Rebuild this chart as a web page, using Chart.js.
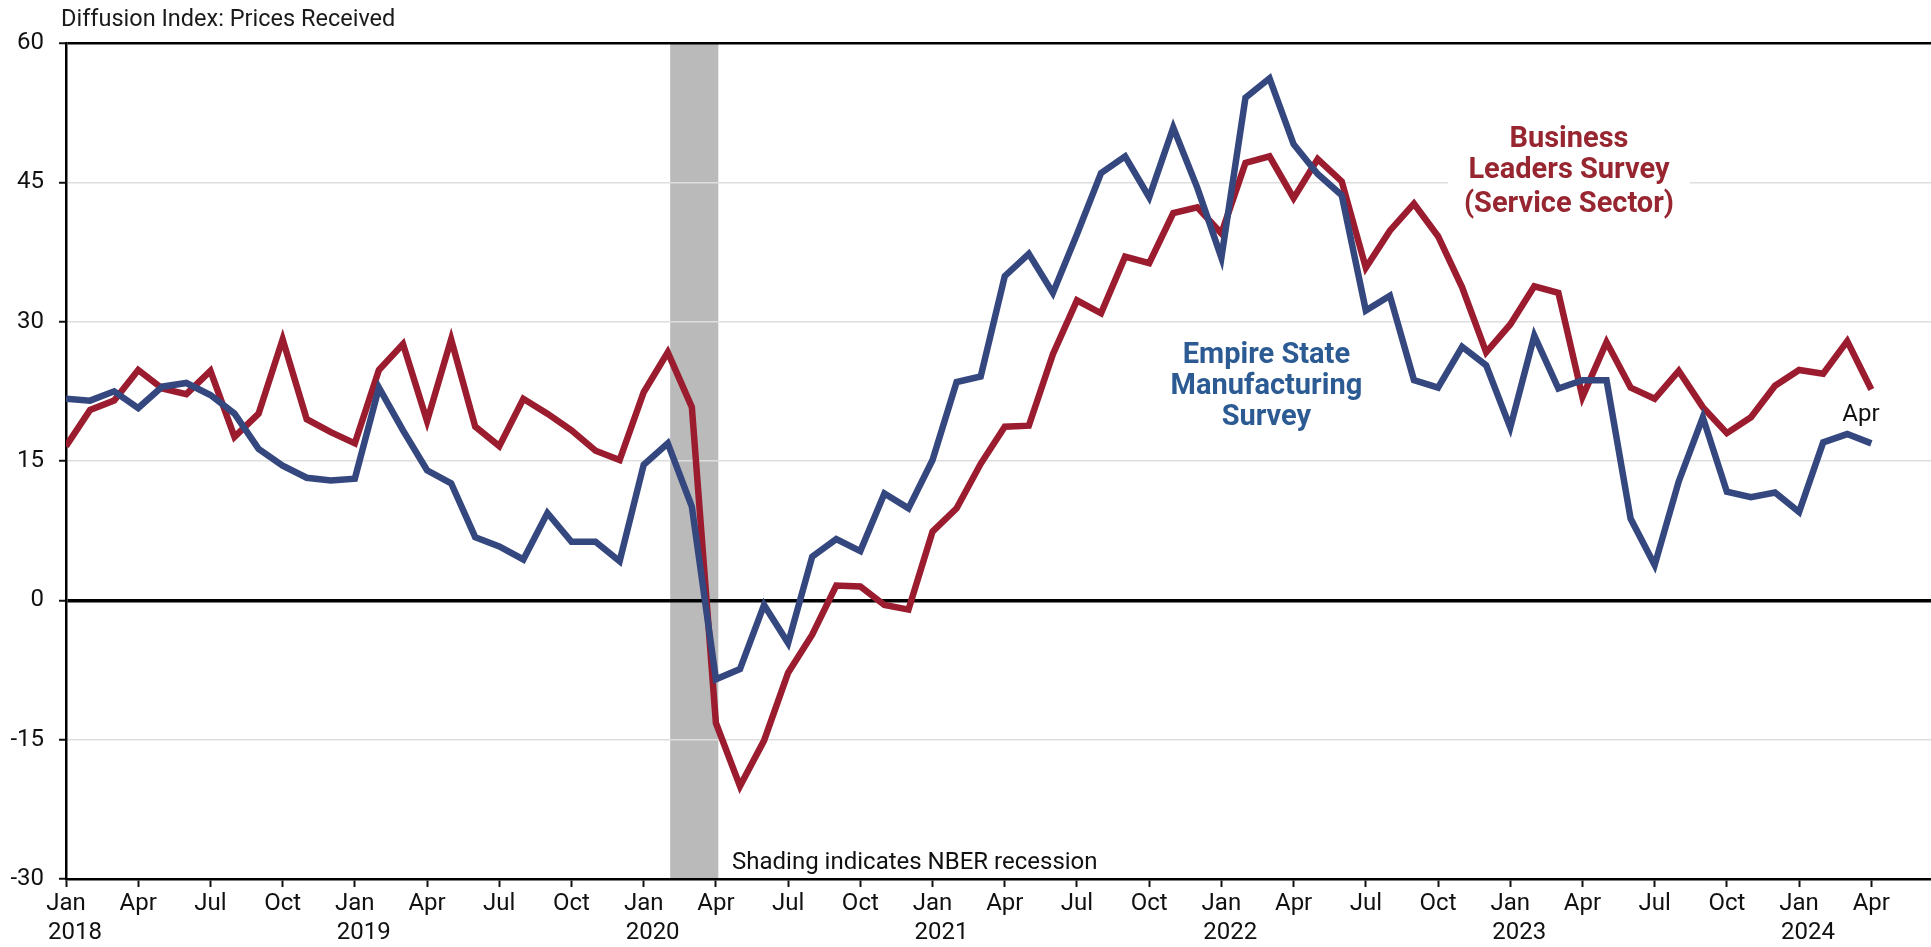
<!DOCTYPE html>
<html>
<head>
<meta charset="utf-8">
<script src="https://cdn.jsdelivr.net/npm/chart.js@4.4.1/dist/chart.umd.min.js"></script>
<style>
  html, body { margin: 0; padding: 0; background: #ffffff; }
  #wrap { width: 1931px; height: 947px; position: relative; }
</style>
</head>
<body>
<div id="wrap"><canvas id="c" width="1931" height="947"></canvas></div>
<script>
// ---- Data (monthly, Jan 2018 = index 0 ... Apr 2024 = index 75) ----
const monthIndex = [
  0,1,2,3,4,5,6,7,8,9,10,11,
  12,13,14,15,16,17,18,19,20,21,22,23,
  24,25,26,27,28,29,30,31,32,33,34,35,
  36,37,38,39,40,41,42,43,44,45,46,47,
  48,49,50,51,52,53,54,55,56,57,58,59,
  60,61,62,63,64,65,66,67,68,69,70,71,
  72,73,74,75
];
const businessLeaders = [
  16.6,20.5,21.5,24.8,22.8,22.2,24.7,17.6,20.1,28.1,19.5,18.1,
  16.9,24.8,27.6,19.3,28.1,18.7,16.6,21.7,20.1,18.3,16.1,15.1,
  22.4,26.7,20.8,-13.2,-20.0,-15.1,-7.8,-3.7,1.6,1.5,-0.5,-1.0,
  7.4,9.9,14.7,18.7,18.8,26.5,32.3,30.9,37.0,36.3,41.7,42.3,
  39.5,47.1,47.8,43.3,47.5,45.1,35.8,39.8,42.7,39.2,33.7,26.7,
  29.7,33.8,33.1,21.9,27.8,22.9,21.7,24.7,20.8,18.0,19.7,23.1,
  24.8,24.4,27.9,22.7
];
const empireState = [
  21.7,21.5,22.5,20.7,23.0,23.4,22.1,20.1,16.3,14.5,13.2,12.9,
  13.1,22.9,18.3,14.0,12.6,6.8,5.8,4.4,9.4,6.3,6.3,4.2,
  14.6,16.9,10.1,-8.5,-7.4,-0.5,-4.6,4.7,6.6,5.3,11.5,9.9,
  15.1,23.5,24.1,34.9,37.3,33.1,39.4,46.0,47.8,43.4,50.9,44.4,
  36.9,54.1,56.2,49.1,45.9,43.6,31.2,32.8,23.7,22.9,27.3,25.3,
  18.6,28.5,22.8,23.7,23.7,8.8,3.8,12.8,19.7,11.7,11.1,11.6,
  9.5,17.0,17.9,16.9
];
// quarterly tick positions and labels
const tickPositions = [0,3,6,9,12,15,18,21,24,27,30,33,36,39,42,45,48,51,54,57,60,63,66,69,72,75];
const tickLabels = [
  ["Jan","   2018"],"Apr","Jul","Oct",
  ["Jan","   2019"],"Apr","Jul","Oct",
  ["Jan","   2020"],"Apr","Jul","Oct",
  ["Jan","   2021"],"Apr","Jul","Oct",
  ["Jan","   2022"],"Apr","Jul","Oct",
  ["Jan","   2023"],"Apr","Jul","Oct",
  ["Jan","   2024"],"Apr"
];
const yTicks = [-30,-15,0,15,30,45,60];
const recession = [25.1, 27.1]; // Feb 2020 - Apr 2020 (month index)

const RED = '#9b1c2f';
const BLUE = '#35477f';
const FONT = 'Roboto, "Liberation Sans", sans-serif';

const toPts = (xs, ys) => xs.map((x, i) => ({x: x, y: ys[i]}));

const decor = {
  id: 'decor',
  beforeDraw(chart) {
    const {ctx, chartArea, scales} = chart;
    ctx.save();
    ctx.fillStyle = '#ffffff';
    ctx.fillRect(0, 0, chart.width, chart.height);
    const x0 = scales.x.getPixelForValue(recession[0]);
    const x1 = scales.x.getPixelForValue(recession[1]);
    ctx.fillStyle = '#bababa';
    ctx.fillRect(x0, chartArea.top, x1 - x0, chartArea.bottom - chartArea.top);
    ctx.restore();
  },
  beforeDatasetsDraw(chart) {
    const {ctx, scales} = chart;
    const x = scales.x, y = scales.y;
    ctx.save();
    // white box behind Business Leaders label (interrupts the 45 gridline)
    const cx = x.getPixelForValue(62.44);
    ctx.fillStyle = '#ffffff';
    const top = y.getPixelForValue(52.2), bot = y.getPixelForValue(41.0);
    ctx.fillRect(cx - 121, top, 242, bot - top);
    ctx.restore();
  },
  afterDraw(chart) {
    const {ctx, scales} = chart;
    const x = scales.x, y = scales.y;
    ctx.save();
    ctx.textBaseline = 'middle';
    // Title
    ctx.fillStyle = '#1a1a1a';
    ctx.font = '23.5px ' + FONT;
    ctx.textAlign = 'left';
    ctx.fillText('Diffusion Index: Prices Received', 61, 20);
    // Business Leaders label
    ctx.fillStyle = '#972631';
    ctx.font = 'bold 29px ' + FONT;
    ctx.textAlign = 'center';
    const bx = x.getPixelForValue(62.44);
    ctx.fillText('Business', bx, y.getPixelForValue(49.6));
    ctx.fillText('Leaders Survey', bx, y.getPixelForValue(46.2));
    ctx.fillText('(Service Sector)', bx, y.getPixelForValue(42.6));
    // Empire label
    ctx.fillStyle = '#2b5b92';
    const ex = x.getPixelForValue(49.87);
    ctx.fillText('Empire State', ex, y.getPixelForValue(26.3));
    ctx.fillText('Manufacturing', ex, y.getPixelForValue(23.0));
    ctx.fillText('Survey', ex, y.getPixelForValue(19.7));
    // Apr label
    ctx.fillStyle = '#111111';
    ctx.font = '24px ' + FONT;
    ctx.fillText('Apr', x.getPixelForValue(74.57), y.getPixelForValue(20.0));
    // recession note
    ctx.textAlign = 'left';
    ctx.font = '24px ' + FONT;
    ctx.fillText('Shading indicates NBER recession', x.getPixelForValue(27.67), y.getPixelForValue(-28.3));
    ctx.restore();
  }
};

new Chart(document.getElementById('c'), {
  type: 'line',
  data: {
    datasets: [
      {
        label: 'Business Leaders Survey (Service Sector)',
        data: toPts(monthIndex, businessLeaders),
        borderColor: RED,
        borderWidth: 6.5,
        pointRadius: 0,
        tension: 0,
        borderJoinStyle: 'miter',
        order: 2
      },
      {
        label: 'Empire State Manufacturing Survey',
        data: toPts(monthIndex, empireState),
        borderColor: BLUE,
        borderWidth: 6.5,
        pointRadius: 0,
        tension: 0,
        borderJoinStyle: 'miter',
        order: 1
      }
    ]
  },
  options: {
    responsive: false,
    animation: false,
    devicePixelRatio: 1,
    layout: { padding: { top: 43, right: 0, left: 0, bottom: 0 } },
    plugins: {
      legend: { display: false },
      tooltip: { enabled: false }
    },
    scales: {
      x: {
        type: 'linear',
        min: 0,
        max: 77.48,
        afterBuildTicks(scale) { scale.ticks = tickPositions.map(v => ({value: v})); },
        afterFit(scale) { scale.height = 947 - 879; },
        ticks: {
          autoSkip: false,
          maxRotation: 0,
          padding: 3,
          color: '#111111',
          font: { family: FONT, size: 24, lineHeight: 1.2 },
          callback(value) {
            const k = tickPositions.indexOf(value);
            return k >= 0 ? tickLabels[k] : '';
          }
        },
        grid: {
          drawOnChartArea: false,
          drawTicks: true,
          tickLength: 8,
          tickColor: '#111111',
          tickWidth: 2
        },
        border: { color: '#000000', width: 2.5 }
      },
      y: {
        min: -30,
        max: 60,
        afterBuildTicks(scale) { scale.ticks = yTicks.map(v => ({value: v})); },
        afterFit(scale) { scale.width = 66; },
        ticks: {
          padding: 15,
          color: '#111111',
          font: { family: FONT, size: 24 }
        },
        grid: {
          drawTicks: true,
          tickLength: 7,
          tickColor: '#111111',
          tickWidth: 2,
          color(ctx) {
            const v = ctx.tick && ctx.tick.value;
            if (v === 0 || v === 60 || v === -30) return '#000000';
            return '#dedede';
          },
          lineWidth(ctx) {
            const v = ctx.tick && ctx.tick.value;
            if (v === 0) return 3.5;
            if (v === 60) return 2.5;
            return 1.5;
          }
        },
        border: { color: '#000000', width: 2.5 }
      }
    }
  },
  plugins: [decor]
});
</script>
</body>
</html>
